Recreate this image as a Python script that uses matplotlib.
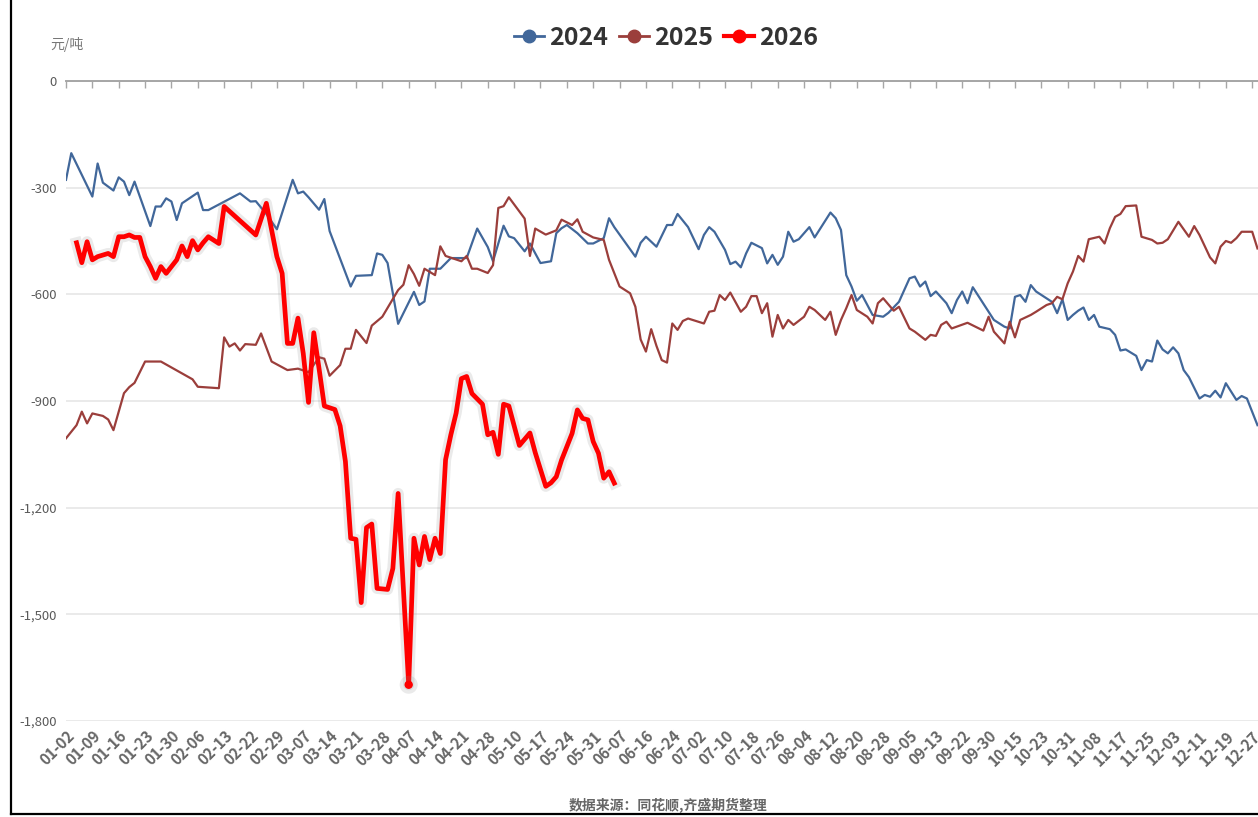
import matplotlib
matplotlib.use('Agg')
from matplotlib import pyplot as plt
from matplotlib import patheffects as pe
from matplotlib.lines import Line2D

plt.rcParams['font.family'] = ['Noto Sans CJK SC', 'DejaVu Sans']

# category axis: one label every 5 trading-day slots
tick_labels = ['01-02', '01-09', '01-16', '01-23', '01-30', '02-06', '02-13', '02-22',
               '02-29', '03-07', '03-14', '03-21', '03-28', '04-07', '04-14', '04-21',
               '04-28', '05-10', '05-17', '05-24', '05-31', '06-07', '06-16', '06-24',
               '07-02', '07-10', '07-18', '07-26', '08-04', '08-12', '08-20', '08-28',
               '09-05', '09-13', '09-22', '09-30', '10-15', '10-23', '10-31', '11-08',
               '11-17', '11-25', '12-03', '12-11', '12-19', '12-27']
slots_per_label = 5

x_2024 = [0, 1, 5, 6, 7, 8, 9, 10, 11, 12, 13, 16, 17, 18, 19, 20, 21, 22, 25, 26, 27, 33,
          35, 36, 38, 40, 43, 44, 45, 46, 48, 49, 50, 54, 55, 58, 59, 60, 61, 63, 66, 67, 68,
          69, 71, 73, 76, 78, 80, 81, 83, 84, 85, 87, 88, 90, 92, 93, 94, 95, 97, 99, 100,
          102, 103, 104, 108, 109, 110, 112, 114, 115, 116, 118, 120, 121, 122, 123, 125,
          126, 127, 128, 129, 130, 132, 133, 134, 135, 136, 137, 138, 139, 141, 142, 145,
          146, 147, 148, 149, 150, 151, 153, 155, 156, 158, 160, 161, 162, 163, 164, 165,
          167, 168, 169, 170, 171, 172, 175, 176, 178, 179, 180, 181, 182, 183, 184, 187,
          188, 189, 190, 191, 192, 193, 194, 195, 196, 198, 199, 200, 201, 203, 204, 205,
          206, 207, 208, 209, 210, 211, 212, 213, 215, 216, 217, 218, 219, 220, 222, 223,
          224, 226]
y_2024 = [-278, -203, -325, -232, -286, -297, -308, -271, -283, -321, -283, -408, -353, -353,
          -330, -339, -391, -344, -314, -363, -363, -316, -339, -338, -374, -417, -278, -316,
          -311, -327, -362, -332, -422, -578, -548, -546, -485, -489, -512, -683, -593, -630,
          -620, -528, -528, -498, -498, -415, -467, -507, -407, -437, -442, -479, -457, -512,
          -507, -428, -414, -405, -428, -457, -457, -442, -386, -411, -494, -455, -438, -466,
          -405, -405, -374, -411, -473, -433, -411, -424, -475, -515, -508, -524, -485, -455,
          -470, -513, -489, -517, -494, -424, -452, -445, -411, -440, -370, -386, -419, -546,
          -578, -618, -602, -658, -663, -652, -621, -555, -550, -578, -564, -605, -592, -625,
          -653, -616, -592, -625, -580, -649, -672, -691, -696, -607, -602, -621, -574, -592,
          -621, -653, -614, -672, -658, -646, -637, -672, -658, -691, -698, -714, -758, -755,
          -773, -813, -785, -789, -730, -755, -766, -749, -766, -813, -833, -893, -883, -888,
          -871, -890, -850, -897, -886, -893, -968]

x_2025 = [0, 2, 3, 4, 5, 7, 8, 9, 11, 12, 13, 15, 18, 24, 25, 29, 30, 31, 32, 33, 34, 36, 37,
          39, 42, 44, 46, 48, 49, 50, 52, 53, 54, 55, 57, 58, 60, 63, 64, 65, 66, 67, 68, 70,
          71, 72, 75, 76, 77, 78, 80, 81, 82, 83, 84, 87, 88, 89, 91, 93, 94, 96, 97, 98, 100,
          102, 103, 105, 107, 108, 109, 110, 111, 112, 113, 114, 115, 116, 117, 118, 121, 122,
          123, 124, 125, 126, 128, 129, 130, 131, 132, 133, 134, 135, 136, 137, 138, 140, 141,
          142, 144, 145, 146, 147, 148, 149, 150, 152, 153, 154, 155, 157, 158, 160, 161, 163,
          164, 165, 166, 167, 168, 171, 174, 175, 176, 178, 179, 180, 181, 183, 184, 186, 187,
          188, 189, 190, 191, 192, 193, 194, 196, 197, 198, 199, 200, 201, 203, 204, 206, 207,
          208, 209, 211, 213, 214, 215, 217, 218, 219, 220, 221, 222, 223, 225, 226]
y_2025 = [-1005, -968, -930, -963, -935, -942, -952, -982, -878, -861, -849, -789, -789, -839,
          -860, -864, -721, -747, -738, -758, -740, -742, -710, -789, -813, -809, -819, -777,
          -781, -829, -799, -753, -753, -700, -737, -688, -663, -588, -573, -518, -543, -576,
          -528, -546, -465, -492, -507, -492, -528, -528, -540, -518, -357, -352, -327, -387,
          -492, -415, -432, -420, -390, -405, -389, -424, -440, -447, -503, -578, -597, -635,
          -727, -761, -698, -745, -785, -792, -682, -700, -675, -668, -682, -649, -646, -602,
          -616, -595, -649, -635, -605, -605, -653, -625, -719, -658, -696, -672, -686, -663,
          -635, -644, -672, -649, -714, -672, -639, -602, -644, -663, -682, -625, -611, -646,
          -635, -696, -705, -728, -714, -717, -686, -677, -696, -680, -702, -663, -705, -738,
          -677, -721, -672, -658, -649, -630, -625, -607, -614, -569, -536, -492, -508, -445,
          -438, -457, -414, -382, -374, -352, -350, -438, -447, -457, -455, -445, -396, -438,
          -408, -433, -496, -513, -466, -450, -455, -442, -424, -424, -471]

x_2026 = [2, 3, 4, 5, 6, 8, 9, 10, 11, 12, 13, 14, 15, 16, 17, 18, 19, 21, 22, 23, 24, 25, 26,
          27, 29, 30, 36, 38, 40, 41, 42, 43, 44, 45, 46, 47, 48, 49, 51, 52, 53, 54, 55, 56,
          57, 58, 59, 61, 62, 63, 65, 66, 67, 68, 69, 70, 71, 72, 73, 74, 75, 76, 77, 79, 80,
          81, 82, 83, 84, 86, 88, 89, 91, 92, 93, 94, 96, 97, 98, 99, 100, 101, 102, 103, 104]
y_2026 = [-455, -511, -452, -503, -494, -485, -494, -438, -438, -433, -440, -440, -494, -522,
          -555, -522, -541, -503, -464, -494, -449, -475, -455, -438, -457, -353, -433, -344,
          -494, -541, -738, -738, -667, -766, -904, -708, -809, -914, -924, -970, -1070, -1286,
          -1289, -1467, -1256, -1246, -1427, -1430, -1371, -1160, -1698, -1286, -1361, -1281,
          -1346, -1286, -1329, -1065, -995, -934, -837, -831, -879, -909, -995, -988, -1050,
          -909, -914, -1025, -990, -1045, -1140, -1130, -1113, -1066, -991, -925, -949, -953,
          -1014, -1047, -1117, -1099, -1131]

W, H = 1258, 817
fig = plt.figure(figsize=(W / 100, H / 100), dpi=100)
fig.patch.set_facecolor('white')

x0, x1 = 66, 1258
y_top, y_bot = 81, 721
ax = fig.add_axes([x0 / W, 1 - y_bot / H, (x1 - x0) / W, (y_bot - y_top) / H])
px_per_slot = 26.36 / slots_per_label
ax.set_xlim(0, (x1 - x0) / px_per_slot)
ax.set_ylim(-1800, 0)

ax.plot(x_2024, y_2024, color='#41679a', lw=1.6, label='2024')
ax.plot(x_2025, y_2025, color='#9b3e3b', lw=1.6, label='2025')
lowest = y_2026.index(min(y_2026))
ax.plot(x_2026, y_2026, color='#ff0000', lw=3.4, label='2026',
        marker='o', ms=5, markevery=[lowest], solid_joinstyle='round',
        path_effects=[pe.Stroke(linewidth=8, foreground=(0.55, 0.55, 0.55, 0.18)),
                      pe.Normal()])

for s in ax.spines.values():
    s.set_visible(False)
ax.axhline(0, color='#a6a6a6', lw=1.4, clip_on=False, zorder=1)
ax.set_yticks(range(-1800, 1, 300))
ax.set_yticklabels([f'{v:,}' for v in range(-1800, 1, 300)])
ax.yaxis.grid(True, color='#e6e6e6', lw=1.2)
ax.set_axisbelow(True)
ax.tick_params(axis='y', length=0, pad=6.5, labelsize=9.5, labelcolor='#5a5a5a')

ax.set_xticks([i * slots_per_label for i in range(len(tick_labels))])
ax.set_xticklabels(tick_labels, rotation=45, ha='right', va='top', rotation_mode='anchor',
                   fontsize=11, color='#666666', fontweight='bold')
ax.tick_params(axis='x', bottom=False, top=True, direction='in', length=5, width=1,
               color='#a6a6a6', labelbottom=True, labeltop=False, pad=5)

handles = [Line2D([], [], color='#41679a', lw=2, marker='o', ms=9),
           Line2D([], [], color='#9b3e3b', lw=2, marker='o', ms=9),
           Line2D([], [], color='#ff0000', lw=3, marker='o', ms=9)]
fig.legend(handles, ['2024', '2025', '2026'], loc='center', ncol=3, frameon=False,
           bbox_to_anchor=(666 / W, 1 - 38 / H), handlelength=1.2, handletextpad=0.2,
           columnspacing=0.45, prop={'weight': 'bold', 'size': 18}, labelcolor='#333333')

fig.text(50 / W, 1 - 45 / H, '元/吨', ha='left', va='center', fontsize=10, color='#777777')
fig.text(668 / W, 1 - 805 / H, '数据来源：同花顺,齐盛期货整理', ha='center', va='center',
         fontsize=10, color='#666666', fontweight='bold')

# black frame on the left and bottom edges
fig.add_artist(Line2D([10.5 / W, 10.5 / W], [1 - 814 / H, 1], color='black', lw=1.6))
fig.add_artist(Line2D([10.5 / W, 1], [1 - 814 / H, 1 - 814 / H], color='black', lw=1.6))

fig.savefig('out.png', dpi=100)
